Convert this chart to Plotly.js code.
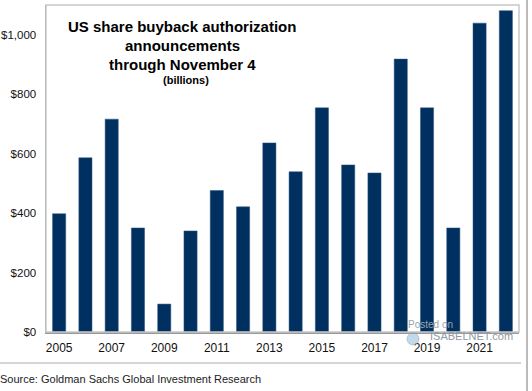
<!DOCTYPE html>
<html>
<head>
<meta charset="utf-8">
<script src="https://cdn.plot.ly/plotly-3.0.1.min.js"></script>
<style>html,body{margin:0;padding:0;background:#fff;}#chart{width:532px;height:391px;}</style>
</head>
<body>
<div id="chart"></div>
<script>
const years = [2005,2006,2007,2008,2009,2010,2011,2012,2013,2014,2015,2016,2017,2018,2019,2020,2021,2022];
const buybacks = [398,586,716,350,94,340,476,421,636,539,754,562,535,918,754,350,1039,1081];
const yTickVals = [0,200,400,600,800,1000];
const yTickText = ['$0','$200','$400','$600','$800','$1,000'];
const xTickVals = [2005,2007,2009,2011,2013,2015,2017,2019,2021];
const titleLines = ['US share buyback authorization','announcements','through November 4'];
const subtitle = '(billions)';
const source = 'Source: Goldman Sachs Global Investment Research';

const font = 'Liberation Sans, Arial, sans-serif';
const W = 532, H = 391, L = 46, R = 13, T = 5, B = 59;
const pw = W - L - R, ph = H - T - B;
const px = p => (p - L) / pw;
const py = p => (H - B - p) / ph;

const annotations = [];
const titleY = [27, 46, 64];
titleLines.forEach((t, i) => annotations.push({
  text: '<b>' + t + '</b>', xref: 'paper', yref: 'paper', x: px(182), y: py(titleY[i]),
  xanchor: 'center', yanchor: 'middle', showarrow: false,
  font: {family: font, size: 15, color: '#000'}
}));
annotations.push({text: '<b>' + subtitle + '</b>', xref: 'paper', yref: 'paper', x: px(186), y: py(80),
  xanchor: 'center', yanchor: 'middle', showarrow: false, font: {family: font, size: 11, color: '#000'}});
annotations.push({text: source, xref: 'paper', yref: 'paper', x: px(-2), y: py(379),
  xanchor: 'left', yanchor: 'middle', showarrow: false, font: {family: font, size: 11, color: '#222'}});
annotations.push({text: 'Posted on', xref: 'paper', yref: 'paper', x: px(406), y: py(324),
  xanchor: 'left', yanchor: 'middle', showarrow: false, font: {family: font, size: 10, color: '#9aa4ad'}});
annotations.push({text: 'ISABELNET.com', xref: 'paper', yref: 'paper', x: px(428), y: py(336),
  xanchor: 'left', yanchor: 'middle', showarrow: false, font: {family: font, size: 11, color: '#8f9aa5'}});

const shapes = [
  {type: 'rect', xref: 'paper', yref: 'paper', x0: 0, x1: 1, y0: 0, y1: 1, line: {color: '#c8c8c8', width: 1.5}},
  {type: 'line', xref: 'paper', yref: 'paper', x0: px(0), x1: px(521), y0: py(363), y1: py(363), line: {color: '#c8c8c8', width: 1.5}},
  {type: 'line', xref: 'paper', yref: 'paper', x0: px(527), x1: px(527), y0: py(0), y1: py(391), line: {color: '#777', width: 1}},
  {type: 'circle', xref: 'paper', yref: 'paper', x0: px(407), x1: px(419), y0: py(345), y1: py(333),
    fillcolor: 'rgba(120,170,210,0.45)', line: {color: 'rgba(150,160,170,0.5)', width: 1}}
];

Plotly.newPlot('chart', [{
  type: 'bar', x: years, y: buybacks, width: 0.5,
  marker: {color: '#00305f', line: {color: '#2b5580', width: 0.5}},
  hoverinfo: 'x+y'
}], {
  width: W, height: H,
  margin: {l: L, r: R, t: T, b: B, pad: 0},
  paper_bgcolor: '#fff', plot_bgcolor: '#fff',
  showlegend: false,
  xaxis: {range: [2004.5, 2022.5], tickvals: xTickVals, ticks: '', showgrid: false, zeroline: false,
    ticklabelstandoff: 4,
    showline: true, linecolor: '#999', linewidth: 1.5, tickfont: {family: font, size: 12, color: '#111'}},
  yaxis: {range: [0, 1100], tickvals: yTickVals, ticktext: yTickText, ticks: '', showgrid: false, zeroline: false,
    ticklabelstandoff: 6,
    showline: true, linecolor: '#999', linewidth: 1.5, tickfont: {family: font, size: 11.5, color: '#111'}},
  annotations: annotations,
  shapes: shapes
}, {displayModeBar: false, staticPlot: true});
</script>
</body>
</html>
